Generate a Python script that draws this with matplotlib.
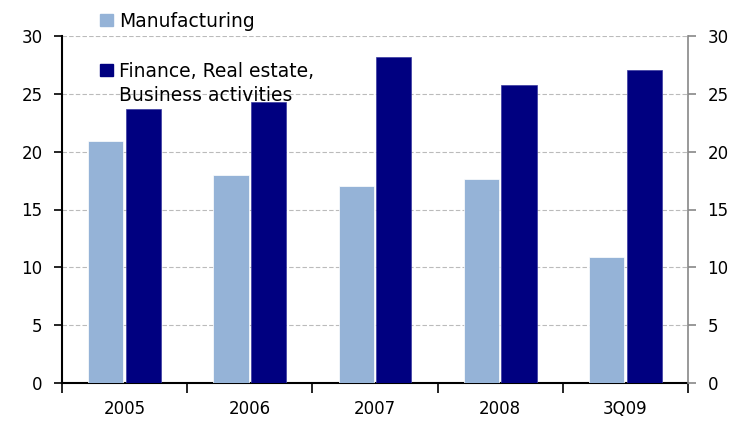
import matplotlib.pyplot as plt
import numpy as np
from matplotlib.patches import Rectangle

categories = ['2005', '2006', '2007', '2008', '3Q09']
manufacturing = [20.9, 18.0, 17.0, 17.6, 10.9]
finance = [23.7, 24.3, 28.2, 25.8, 27.1]
legend_labels = ['Manufacturing', 'Finance, Real estate,\nBusiness activities']

light = '#95B3D7'
dark = '#000080'

plt.rcParams['font.family'] = 'DejaVu Sans'
fig = plt.figure(figsize=(7.38, 4.26), dpi=100)
ax = fig.add_axes([62 / 738, 43 / 426, 626 / 738, 347 / 426])

x = np.arange(len(categories))
w = 0.28
ax.bar(x - 0.15, manufacturing, w, color=light, edgecolor='white', linewidth=0.5, zorder=3)
ax.bar(x + 0.15, finance, w, color=dark, edgecolor='#3a3aa0', linewidth=0.5, zorder=3)

ax.set_xlim(-0.5, len(categories) - 0.5)
ax.set_ylim(0, 30)
ax.set_yticks(range(0, 31, 5))
ax.yaxis.grid(True, linestyle=(0, (4, 2)), color='#bbbbbb', linewidth=0.8, zorder=0)

ax.set_xticks(np.arange(-0.5, len(categories), 1.0))
ax.set_xticklabels([])
ax.set_xticks(x, minor=True)
ax.set_xticklabels(categories, minor=True, fontsize=12)
ax.tick_params(axis='x', which='major', length=7, width=1.2, direction='out')
ax.tick_params(axis='x', which='minor', length=0, pad=12)
ax.tick_params(axis='y', length=6, width=1.2, labelsize=12, pad=8)

ax.spines['top'].set_visible(False)
ax.spines['right'].set_visible(False)
ax.spines['left'].set_linewidth(1.5)
ax.spines['bottom'].set_linewidth(1.5)

ax2 = ax.twinx()
ax2.set_ylim(0, 30)
ax2.set_yticks(range(0, 31, 5))
ax2.tick_params(axis='y', length=6, width=1.2, color='#888888', labelsize=12, pad=8)
for s in ['top', 'left', 'bottom']:
    ax2.spines[s].set_visible(False)
ax2.spines['right'].set_color('#888888')
ax2.spines['right'].set_linewidth(1.2)

# legend drawn by hand: square at the first text line
W, H = 738, 426
for col, lab, yc in [(light, legend_labels[0], 20), (dark, legend_labels[1], 70)]:
    fig.patches.append(Rectangle((100 / W, 1 - (yc + 6) / H), 13 / W, 12 / H,
                                 transform=fig.transFigure, color=col))
    fig.text(119 / W, 1 - (yc - 8) / H, lab, fontsize=13.5, va='top', ha='left',
             linespacing=1.35)

fig.savefig('out.png', dpi=100)
